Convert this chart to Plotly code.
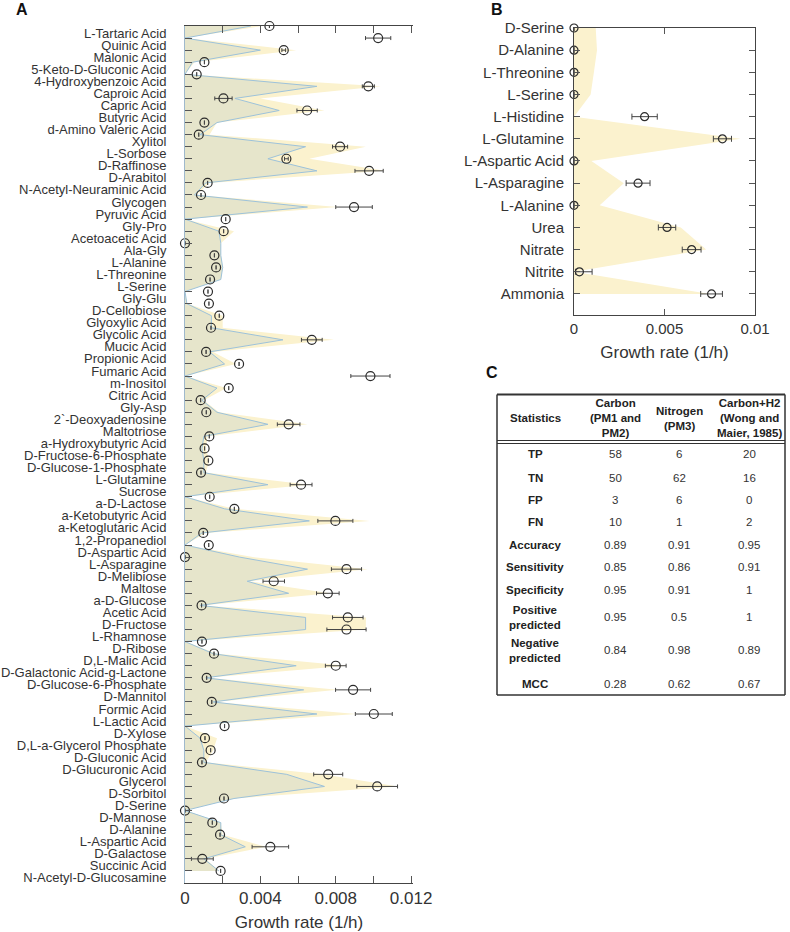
import plotly.graph_objects as go

# ---------------- Panel A data ----------------
A_labels = [
    "L-Tartaric Acid", "Quinic Acid", "Malonic Acid", "5-Keto-D-Gluconic Acid",
    "4-Hydroxybenzoic Acid", "Caproic Acid", "Capric Acid", "Butyric Acid",
    "d-Amino Valeric Acid", "Xylitol", "L-Sorbose", "D-Raffinose", "D-Arabitol",
    "N-Acetyl-Neuraminic Acid", "Glycogen", "Pyruvic Acid", "Gly-Pro",
    "Acetoacetic Acid", "Ala-Gly", "L-Alanine", "L-Threonine", "L-Serine",
    "Gly-Glu", "D-Cellobiose", "Glyoxylic Acid", "Glycolic Acid", "Mucic Acid",
    "Propionic Acid", "Fumaric Acid", "m-Inositol", "Citric Acid", "Gly-Asp",
    "2`-Deoxyadenosine", "Maltotriose", "a-Hydroxybutyric Acid",
    "D-Fructose-6-Phosphate", "D-Glucose-1-Phosphate", "L-Glutamine", "Sucrose",
    "a-D-Lactose", "a-Ketobutyric Acid", "a-Ketoglutaric Acid", "1,2-Propanediol",
    "D-Aspartic Acid", "L-Asparagine", "D-Melibiose", "Maltose", "a-D-Glucose",
    "Acetic Acid", "D-Fructose", "L-Rhamnose", "D-Ribose", "D,L-Malic Acid",
    "D-Galactonic Acid-g-Lactone", "D-Glucose-6-Phosphate", "D-Mannitol",
    "Formic Acid", "L-Lactic Acid", "D-Xylose", "D,L-a-Glycerol Phosphate",
    "D-Gluconic Acid", "D-Glucuronic Acid", "Glycerol", "D-Sorbitol", "D-Serine",
    "D-Mannose", "D-Alanine", "L-Aspartic Acid", "D-Galactose", "Succinic Acid",
    "N-Acetyl-D-Glucosamine",
]
A_growth = [
    0.00448, 0.01025, 0.00524, 0.00103, 0.00062, 0.00973, 0.00204, 0.00648,
    0.00103, 0.00073, 0.00823, 0.00538, 0.00977, 0.00120, 0.00085, 0.00897,
    0.00216, 0.00205, 0.00000, 0.00156, 0.00165, 0.00133, 0.00122, 0.00127,
    0.00182, 0.00138, 0.00673, 0.00112, 0.00287, 0.00984, 0.00232, 0.00083,
    0.00113, 0.00550, 0.00129, 0.00104, 0.00124, 0.00085, 0.00616, 0.00131,
    0.00262, 0.00798, 0.00097, 0.00126, 0.00000, 0.00857, 0.00471, 0.00758,
    0.00088, 0.00864, 0.00857, 0.00090, 0.00154, 0.00800, 0.00115, 0.00892,
    0.00142, 0.01002, 0.00210, 0.00106, 0.00136, 0.00090, 0.00760, 0.01020,
    0.00207, 0.00000, 0.00145, 0.00186, 0.00453, 0.00092, 0.00189,
]
A_error = [
    0.0, 0.00067, 0.0001, 0.0, 0.0, 0.00032, 0.00046, 0.00054,
    0.0, 0.0, 0.00040, 0.0001, 0.00075, 0.0, 0.0, 0.00097,
    0.0, 0.0, 0.0, 0.0, 0.0, 0.0, 0.0, 0.0,
    0.0, 0.0, 0.00055, 0.0, 0.0, 0.00104, 0.0, 0.0,
    0.0, 0.00060, 0.0, 0.0, 0.0, 0.0, 0.00058, 0.0,
    0.0, 0.00093, 0.0, 0.0, 0.0, 0.00080, 0.00057, 0.00060,
    0.0, 0.00081, 0.00104, 0.0, 0.0, 0.00055, 0.0, 0.00093,
    0.0, 0.00098, 0.0, 0.0, 0.0, 0.0, 0.00077, 0.00108,
    0.0, 0.0, 0.0, 0.0, 0.00097, 0.00058, 0.0,
]
A_pred_yellow = [
    0.0041, 0.0000, 0.0059, 0.0005, 0.0000, 0.0104, 0.0040, 0.0074,
    0.0017, 0.0013, 0.0096, 0.0066, 0.0106, 0.0013, 0.0006, 0.0081,
    0.0000, 0.0026, 0.0019, 0.0019, 0.0020, 0.0019, 0.0000, 0.0001,
    0.0020, 0.0020, 0.0079, 0.0015, 0.0027, 0.0000, 0.0022, 0.0010,
    0.0018, 0.0065, 0.0012, 0.0011, 0.0013, 0.0011, 0.0066, 0.0000,
    0.0026, 0.0098, 0.0011, 0.0000, 0.0036, 0.0097, 0.0034, 0.0077,
    0.0009, 0.0096, 0.0096, 0.0000, 0.0017, 0.0086, 0.0012, 0.0081,
    0.0016, 0.0091, 0.0000, 0.0017, 0.0015, 0.0011, 0.0073, 0.0113,
    0.0026, 0.0000, 0.0019, 0.0020, 0.0043, 0.0011, 0.0018,
]
A_pred_blue = [
    0.0035, 0.0000, 0.0040, 0.0004, 0.0000, 0.0070, 0.00265, 0.0050,
    0.0017, 0.0008, 0.0064, 0.0044, 0.0070, 0.0011, 0.0005, 0.0065,
    0.0000, 0.0018, 0.0019, 0.0019, 0.0020, 0.0019, 0.0000, 0.0001,
    0.0014, 0.0014, 0.0052, 0.0013, 0.0021, 0.0000, 0.0017, 0.0009,
    0.0017, 0.0044, 0.0010, 0.0009, 0.0010, 0.0010, 0.0044, 0.0000,
    0.0021, 0.0066, 0.0009, 0.0000, 0.0029, 0.0065, 0.0033, 0.0055,
    0.0008, 0.0064, 0.0064, 0.0000, 0.0015, 0.0059, 0.0011, 0.0063,
    0.0015, 0.0070, 0.0000, 0.0008, 0.0010, 0.0010, 0.0054, 0.0074,
    0.0026, 0.0000, 0.0019, 0.0019, 0.0032, 0.0010, 0.0018,
]
A_xticks = [0, 0.002, 0.004, 0.006, 0.008, 0.010, 0.012]
A_xticktext = ["0", "", "0.004", "", "0.008", "", "0.012"]

# ---------------- Panel B data ----------------
B_labels = ["D-Serine", "D-Alanine", "L-Threonine", "L-Serine", "L-Histidine",
            "L-Glutamine", "L-Aspartic Acid", "L-Asparagine", "L-Alanine",
            "Urea", "Nitrate", "Nitrite", "Ammonia"]
B_growth = [0, 0, 0, 0, 0.0039, 0.0082, 0, 0.00354, 0, 0.00514, 0.0065, 0.0003, 0.0076]
B_err_plus = [0, 0, 0, 0, 0.0007, 0.0005, 0, 0.00066, 0, 0.00048, 0.00052, 0.0007, 0.0006]
B_err_minus = [0, 0, 0, 0, 0.0007, 0.0005, 0, 0.00066, 0, 0.00048, 0.00052, 0.00022, 0.0006]
B_pred = [0.0012, 0.00127, 0.0011, 0.00092, 0, 0.0092, 0.00096, 0.00275, 0.00142,
          0.0059, 0.0073, 0, 0.0075]
B_xticks = [0, 0.005, 0.01]
B_xticktext = ["0", "0.005", "0.01"]

# ---------------- Panel C data ----------------
C_headers = ["Statistics", "Carbon<br>(PM1 and<br>PM2)", "Nitrogen<br>(PM3)",
             "Carbon+H2<br>(Wong and<br>Maier, 1985)"]
C_rows = ["TP", "TN", "FP", "FN", "Accuracy", "Sensitivity", "Specificity",
          "Positive<br>predicted", "Negative<br>predicted", "MCC"]
C_carbon = ["58", "50", "3", "10", "0.89", "0.85", "0.95", "0.95", "0.84", "0.28"]
C_nitrogen = ["6", "62", "6", "1", "0.91", "0.86", "0.91", "0.5", "0.98", "0.62"]
C_carbonH2 = ["20", "16", "0", "2", "0.95", "0.91", "1", "1", "0.89", "0.67"]

W, H = 790, 932
FONT = "Arial, Liberation Sans, sans-serif"
YELLOW = "#FBF2CE"
OVERLAP = "#E6E5CB"
BLUE_LINE = "#9DC2DA"
MARK = "#2b2b2b"


def px(x):
    return x / W


def py(y):
    return 1 - y / H


fig = go.Figure()

# Panel A
fig.add_trace(go.Scatter(x=A_pred_yellow, y=A_labels, mode="lines", fill="tozerox",
                         fillcolor=YELLOW, line=dict(width=0, color=YELLOW),
                         xaxis="x", yaxis="y", showlegend=False, hoverinfo="skip"))
fig.add_trace(go.Scatter(x=A_pred_blue, y=A_labels, mode="lines", fill="tozerox",
                         fillcolor=OVERLAP, line=dict(width=1, color=BLUE_LINE),
                         xaxis="x", yaxis="y", showlegend=False, hoverinfo="skip"))
fig.add_trace(go.Scatter(x=A_growth, y=A_labels, mode="markers",
                         marker=dict(symbol="circle-open", size=9, color=MARK,
                                     line=dict(width=1.2, color=MARK)),
                         error_x=dict(type="data", array=A_error, color="#444",
                                      thickness=1, width=2),
                         cliponaxis=False, xaxis="x", yaxis="y", showlegend=False))

# Panel B
fig.add_trace(go.Scatter(x=B_pred, y=B_labels, mode="lines", fill="tozerox",
                         fillcolor=YELLOW, line=dict(width=0, color=YELLOW),
                         xaxis="x2", yaxis="y2", showlegend=False, hoverinfo="skip"))
fig.add_trace(go.Scatter(x=B_growth, y=B_labels, mode="markers",
                         marker=dict(symbol="circle-open", size=8, color=MARK,
                                     line=dict(width=1.2, color=MARK)),
                         error_x=dict(type="data", array=B_err_plus, arrayminus=B_err_minus,
                                      color="#444", thickness=1, width=3),
                         cliponaxis=False, xaxis="x2", yaxis="y2", showlegend=False))

nA = len(A_labels)
nB = len(B_labels)

fig.update_layout(
    width=W, height=H, margin=dict(l=0, r=0, t=0, b=0, autoexpand=False),
    paper_bgcolor="white", plot_bgcolor="white",
    font=dict(family=FONT, color="#333"),
    xaxis=dict(domain=[px(185), px(413)], anchor="y", range=[0, 0.0121],
               tickmode="array", tickvals=A_xticks, ticktext=A_xticktext,
               ticks="inside", ticklen=7, automargin=False,
               tickcolor="#555", showline=True, linecolor="#444", linewidth=1,
               mirror="ticks", showgrid=False, zeroline=False,
               tickfont=dict(size=17, color="#333"),
               title=dict(text="Growth rate (1/h)", font=dict(size=17, color="#333"),
                          standoff=9)),
    yaxis=dict(domain=[py(883), py(26)], anchor="x", type="category",
               categoryorder="array", categoryarray=A_labels,
               tickmode="array", tickvals=A_labels, ticktext=A_labels,
               range=[nA - 0.0, 0], ticks="inside", ticklen=7, tickcolor="#555",
               automargin=False,
               showline=True, linecolor="#9fb9cc", linewidth=1, showgrid=False,
               zeroline=False, tickfont=dict(size=13, color="#333"),
               ticklabelstandoff=15, ticklabelshift=-7),
    xaxis2=dict(domain=[px(574), px(755)], anchor="y2", range=[0, 0.01],
                tickmode="array", tickvals=B_xticks, ticktext=B_xticktext,
                ticks="inside", ticklen=6, automargin=False,
                tickcolor="#555", showline=True, linecolor="#444", linewidth=1,
                mirror="ticks", showgrid=False, zeroline=False,
                tickfont=dict(size=15, color="#333"),
                title=dict(text="Growth rate (1/h)", font=dict(size=17, color="#333"),
                           standoff=10)),
    yaxis2=dict(domain=[py(315), py(28)], anchor="x2", type="category",
                categoryorder="array", categoryarray=B_labels,
                tickmode="array", tickvals=B_labels, ticktext=B_labels,
                range=[nB - 1 + 0.95, 0], ticks="inside", ticklen=6, tickcolor="#555",
                automargin=False,
                showline=True, linecolor="#444", linewidth=1, mirror="ticks",
                showgrid=False, zeroline=False, tickfont=dict(size=15, color="#333"),
                ticklabelstandoff=6),
)

annotations = []
shapes = []
for letter, x, y in [("A", 22, 10), ("B", 497, 10), ("C", 492, 372)]:
    annotations.append(dict(text=f"<b>{letter}</b>", x=px(x), y=py(y), xref="paper",
                            yref="paper", showarrow=False, xanchor="center",
                            yanchor="middle", font=dict(size=16, color="#111")))

# Table C
col_x = [535, 615, 679, 749]
for hdr, cx in zip(C_headers, col_x):
    annotations.append(dict(text=f"<b>{hdr}</b>", x=px(cx), y=py(418), xref="paper",
                            yref="paper", showarrow=False, xanchor="center",
                            yanchor="middle", align="center",
                            font=dict(size=11.5, color="#222")))
row_y = [454, 478, 500, 522, 544.5, 567, 589.5, 617, 650, 684]
for label, c1, c2, c3, ry in zip(C_rows, C_carbon, C_nitrogen, C_carbonH2, row_y):
    annotations.append(dict(text=f"<b>{label}</b>", x=px(col_x[0]), y=py(ry),
                            xref="paper", yref="paper", showarrow=False,
                            xanchor="center", yanchor="middle", align="center",
                            font=dict(size=11.5, color="#222")))
    for val, cx in zip([c1, c2, c3], col_x[1:]):
        annotations.append(dict(text=val, x=px(cx), y=py(ry), xref="paper", yref="paper",
                                showarrow=False, xanchor="center", yanchor="middle",
                                font=dict(size=11.5, color="#333")))

# table borders
shapes.append(dict(type="line", xref="paper", yref="paper", x0=px(497), x1=px(785),
                   y0=py(394.5), y1=py(394.5), line=dict(color="#333", width=2)))
for yy in [440.5, 443.5]:
    shapes.append(dict(type="line", xref="paper", yref="paper", x0=px(497), x1=px(785),
                       y0=py(yy), y1=py(yy), line=dict(color="#333", width=1.2)))
shapes.append(dict(type="line", xref="paper", yref="paper", x0=px(497), x1=px(785),
                   y0=py(695), y1=py(695), line=dict(color="#333", width=1.5)))
for xx in [497, 785]:
    shapes.append(dict(type="line", xref="paper", yref="paper", x0=px(xx), x1=px(xx),
                       y0=py(394.5), y1=py(695), line=dict(color="#333", width=1.5)))

fig.update_layout(annotations=annotations, shapes=shapes)
fig.write_html("out.html",
               config={"displayModeBar": False},
               post_script="document.documentElement.style.margin='0';"
                           "document.body.style.margin='0';"
                           "document.body.style.overflow='hidden';")
